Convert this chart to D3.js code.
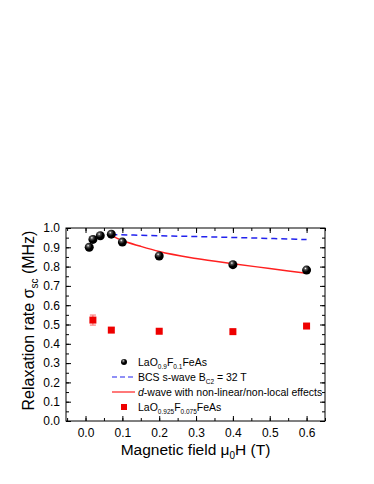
<!DOCTYPE html>
<html>
<head>
<meta charset="utf-8">
<script src="https://cdn.jsdelivr.net/npm/d3@7"></script>
<style>
  body { margin: 0; background: #fff; }
  text { font-family: Arial, "Liberation Sans", sans-serif; }
</style>
</head>
<body>
<div id="chart"></div>
<script>
// data
const fieldLa09 = [0.01, 0.02, 0.04, 0.07, 0.1, 0.2, 0.4, 0.6];
const sigmaLa09 = [0.90, 0.941, 0.96, 0.968, 0.927, 0.855, 0.81, 0.782];

const fieldLa0925 = [0.02, 0.07, 0.2, 0.4, 0.6];
const sigmaLa0925 = [0.523, 0.471, 0.465, 0.463, 0.492];
const errLa0925 = [0.026, 0.012, 0.008, 0.008, 0.012];

const fieldBcs = [0.07, 0.2, 0.4, 0.6];
const sigmaBcs = [0.966, 0.96, 0.951, 0.94];

const fieldDwave = [0.07, 0.1, 0.15, 0.2, 0.3, 0.4, 0.5, 0.6];
const sigmaDwave = [0.962, 0.935, 0.905, 0.878, 0.842, 0.815, 0.79, 0.765];

const xTicks = [0, 0.1, 0.2, 0.3, 0.4, 0.5, 0.6];
const yTicks = [0, 0.1, 0.2, 0.3, 0.4, 0.5, 0.6, 0.7, 0.8, 0.9, 1.0];

let margin = { top: 228, right: 49, bottom: 63, left: 66 },
  width = 374 - margin.left - margin.right,
  height = 484 - margin.top - margin.bottom;

let x = d3.scaleLinear().domain([-0.053, 0.65]).range([0, width]);
let y = d3.scaleLinear().domain([0, 1.0]).range([height, 0]);

let svg = d3.select("#chart").append("svg")
  .attr("width", 374)
  .attr("height", 484);

let defs = svg.append("defs");
let grad = defs.append("radialGradient").attr("id", "ball")
  .attr("cx", "38%").attr("cy", "32%").attr("r", "65%");
grad.append("stop").attr("offset", "0%").attr("stop-color", "#ffffff");
grad.append("stop").attr("offset", "22%").attr("stop-color", "#555");
grad.append("stop").attr("offset", "60%").attr("stop-color", "#000");
grad.append("stop").attr("offset", "100%").attr("stop-color", "#000");

let chart = svg.append("g")
  .attr("transform", "translate(" + margin.left + "," + margin.top + ")");

// minor ticks
let xMinor = d3.range(-0.05, 0.651, 0.05);
let yMinor = d3.range(0, 1.001, 0.05);

// axes (ticks pointing inward)
chart.append("g")
  .attr("transform", "translate(0," + height + ")")
  .call(d3.axisBottom(x).tickValues(xTicks).tickFormat(d3.format(".1f")).tickSize(-5).tickPadding(7))
  .call(g => g.select(".domain").remove());
chart.append("g")
  .attr("transform", "translate(0," + height + ")")
  .call(d3.axisBottom(x).tickValues(xMinor).tickFormat("").tickSize(-3))
  .call(g => g.select(".domain").remove());
chart.append("g")
  .call(d3.axisTop(x).tickValues(xTicks).tickFormat("").tickSize(-5))
  .call(g => g.select(".domain").remove());
chart.append("g")
  .call(d3.axisTop(x).tickValues(xMinor).tickFormat("").tickSize(-3))
  .call(g => g.select(".domain").remove());

chart.append("g")
  .call(d3.axisLeft(y).tickValues(yTicks).tickFormat(d3.format(".1f")).tickSize(-5).tickPadding(6))
  .call(g => g.select(".domain").remove());
chart.append("g")
  .call(d3.axisLeft(y).tickValues(yMinor).tickFormat("").tickSize(-3))
  .call(g => g.select(".domain").remove());
chart.append("g")
  .attr("transform", "translate(" + width + ",0)")
  .call(d3.axisRight(y).tickValues(yTicks).tickFormat("").tickSize(-5))
  .call(g => g.select(".domain").remove());
chart.append("g")
  .attr("transform", "translate(" + width + ",0)")
  .call(d3.axisRight(y).tickValues(yMinor).tickFormat("").tickSize(-3))
  .call(g => g.select(".domain").remove());

chart.selectAll(".tick text").style("font-size", "12px").attr("fill", "#000");
chart.selectAll(".tick line").attr("stroke", "#000");

chart.append("rect")
  .attr("width", width).attr("height", height)
  .attr("fill", "none").attr("stroke", "#000").attr("stroke-width", 1);

// lines
let line = d3.line()
  .x(function (d) { return x(d[0]); })
  .y(function (d) { return y(d[1]); })
  .curve(d3.curveMonotoneX);

chart.append("path")
  .datum(d3.zip(fieldBcs, sigmaBcs))
  .attr("fill", "none").attr("stroke", "#2222ee")
  .attr("stroke-width", 1.5).attr("stroke-dasharray", "6,4")
  .attr("d", line);

chart.append("path")
  .datum(d3.zip(fieldDwave, sigmaDwave))
  .attr("fill", "none").attr("stroke", "#ff2020")
  .attr("stroke-width", 1.5)
  .attr("d", line);

// red squares with error bars
let sq = d3.zip(fieldLa0925, sigmaLa0925, errLa0925);
chart.selectAll(".err")
  .data(sq).enter().append("line")
  .attr("class", "err")
  .attr("x1", d => x(d[0])).attr("x2", d => x(d[0]))
  .attr("y1", d => y(d[1] - d[2])).attr("y2", d => y(d[1] + d[2]))
  .attr("stroke", "#f66").attr("stroke-width", 1);
chart.selectAll(".errcap")
  .data(sq.flatMap(d => [[d[0], d[1] - d[2]], [d[0], d[1] + d[2]]])).enter().append("line")
  .attr("class", "errcap")
  .attr("x1", d => x(d[0]) - 3).attr("x2", d => x(d[0]) + 3)
  .attr("y1", d => y(d[1])).attr("y2", d => y(d[1]))
  .attr("stroke", "#f66").attr("stroke-width", 1);
chart.selectAll(".sq")
  .data(sq).enter().append("rect")
  .attr("class", "sq")
  .attr("x", d => x(d[0]) - 3.5).attr("y", d => y(d[1]) - 3.5)
  .attr("width", 7).attr("height", 7)
  .attr("fill", "#ee0000");

// black spheres
chart.selectAll(".dot")
  .data(d3.zip(fieldLa09, sigmaLa09)).enter().append("circle")
  .attr("class", "dot")
  .attr("cx", d => x(d[0])).attr("cy", d => y(d[1]))
  .attr("r", 4.5)
  .attr("fill", "url(#ball)");

// legend
let leg = svg.append("g").attr("transform", "translate(112,362)");
let rowH = 15;
leg.append("circle").attr("cx", 12).attr("cy", 0).attr("r", 3).attr("fill", "url(#ball)");
leg.append("line").attr("x1", 0).attr("x2", 23).attr("y1", rowH).attr("y2", rowH)
  .attr("stroke", "#2222ee").attr("stroke-width", 1.2).attr("stroke-dasharray", "5,3");
leg.append("line").attr("x1", 0).attr("x2", 23).attr("y1", 2 * rowH).attr("y2", 2 * rowH)
  .attr("stroke", "#ff2020").attr("stroke-width", 1.2);
leg.append("rect").attr("x", 9).attr("y", 3 * rowH - 3).attr("width", 6).attr("height", 6).attr("fill", "#ee0000");

function subText(g, yy, parts) {
  let t = g.append("text").attr("x", 26).attr("y", yy + 4).style("font-size", "10.5px");
  parts.forEach(p => {
    let s = t.append("tspan").text(p.t);
    if (p.sub) s.style("font-size", "6.5px").attr("dy", 3);
    else if (p.back) s.attr("dy", -3);
    if (p.it) s.style("font-style", "italic");
  });
  return t;
}
subText(leg, 0, [{ t: "LaO" }, { t: "0.9", sub: 1 }, { t: "F", back: 1 }, { t: "0.1", sub: 1 }, { t: "FeAs", back: 1 }]);
subText(leg, rowH, [{ t: "BCS s-wave B" }, { t: "C2", sub: 1 }, { t: " = 32 T", back: 1 }]);
subText(leg, 2 * rowH, [{ t: "d", it: 1 }, { t: "-wave with non-linear/non-local effects" }]);
subText(leg, 3 * rowH, [{ t: "LaO" }, { t: "0.925", sub: 1 }, { t: "F", back: 1 }, { t: "0.075", sub: 1 }, { t: "FeAs", back: 1 }]);

// axis titles
let xt = svg.append("text").attr("x", margin.left + width / 2).attr("y", 455)
  .attr("text-anchor", "middle").style("font-size", "15.5px");
xt.append("tspan").text("Magnetic field \u03bc");
xt.append("tspan").text("0").style("font-size", "10px").attr("dy", 4);
xt.append("tspan").text("H (T)").attr("dy", -4);

let yt = svg.append("text")
  .attr("transform", "translate(34," + (margin.top + height / 2 - 4) + ") rotate(-90)")
  .attr("text-anchor", "middle").style("font-size", "16px");
yt.append("tspan").text("Relaxation rate \u03c3");
yt.append("tspan").text("sc").style("font-size", "10px").attr("dy", 4);
yt.append("tspan").text(" (MHz)").attr("dy", -4);
</script>
</body>
</html>
